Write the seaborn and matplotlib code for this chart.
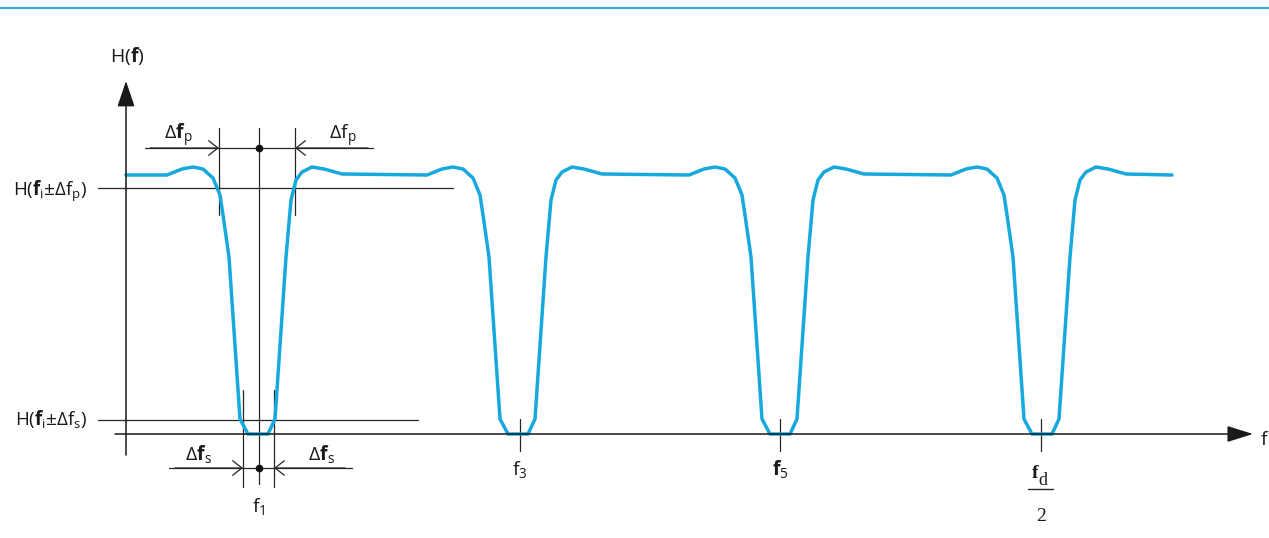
import matplotlib
matplotlib.use("Agg")

import matplotlib.pyplot as plt
import seaborn as sns
from matplotlib.patches import ArrowStyle

sns.set_style("white")
plt.rcParams['font.family'] = ['Open Sans', 'DejaVu Sans']
plt.rcParams['mathtext.fontset'] = 'custom'
plt.rcParams['mathtext.rm'] = 'Open Sans'
plt.rcParams['mathtext.bf'] = 'Open Sans:bold'
plt.rcParams['mathtext.it'] = 'Open Sans:italic'
plt.rcParams['mathtext.sf'] = 'Open Sans'

# filter response H(f) (x = frequency, y = image row)
curve_x = [126, 167,
           182, 193, 203, 213, 220, 223, 229, 240, 248, 268, 275, 286, 291, 296, 302, 312, 324, 342,
           427, 442, 453, 463, 473, 480, 483, 489, 500, 508, 528, 535, 546, 551, 556, 562, 572, 584, 602,
           689, 704, 715, 725, 735, 742, 745, 751, 762, 770, 790, 797, 808, 813, 818, 824, 834, 846, 864,
           951, 966, 977, 987, 997, 1004, 1007, 1013, 1024, 1032, 1052, 1059, 1070, 1075, 1080, 1086, 1096, 1108, 1126,
           1172]
curve_y = [175, 175,
           169, 167, 169, 178, 195, 215, 257, 419, 434, 434, 419, 257, 200, 180, 172, 167, 169, 174,
           175, 169, 167, 169, 178, 195, 215, 257, 419, 434, 434, 419, 257, 200, 180, 172, 167, 169, 174,
           175, 169, 167, 169, 178, 195, 215, 257, 419, 434, 434, 419, 257, 200, 180, 172, 167, 169, 174,
           175, 169, 167, 169, 178, 195, 215, 257, 419, 434, 434, 419, 257, 200, 180, 172, 167, 169, 174,
           175]

notch_ticks = [520, 780, 1041]
pass_level = 188
stop_level = 420
f1 = 259
fp_edges = [219, 295]
fs_edges = [243, 274]

ink = '#262626'
blue = '#17a8de'
txt = '#1a1a1a'

fig = plt.figure(figsize=(12.69, 5.38), dpi=100)
ax = fig.add_axes([0, 0, 1, 1])
ax.set_xlim(0, 1269)
ax.set_ylim(538, 0)
ax.axis('off')

# header rule
ax.plot([0, 1269], [8, 8], color='#35a9d8', lw=1.6)

# axes with arrows
ax.annotate('', xy=(1253, 434), xytext=(115, 434),
            arrowprops=dict(arrowstyle=ArrowStyle('-|>', head_length=0.8, head_width=0.25),
                            mutation_scale=20, color='#1a1a1a', lw=1.1,
                            shrinkA=0, shrinkB=0))
ax.annotate('', xy=(126, 81), xytext=(126, 455),
            arrowprops=dict(arrowstyle=ArrowStyle('-|>', head_length=0.8, head_width=0.27),
                            mutation_scale=20, color='#1a1a1a', lw=1.1,
                            shrinkA=0, shrinkB=0))

# reference levels
ax.plot([98, 453], [pass_level, pass_level], color=ink, lw=0.9)
ax.plot([98, 418], [stop_level, stop_level], color=ink, lw=0.9)

# vertical guides
ax.plot([f1, f1], [128, 484], color=ink, lw=0.9)
for xe in fp_edges:
    ax.plot([xe, xe], [128, 215], color=ink, lw=0.9)
for xe in fs_edges:
    ax.plot([xe, xe], [390, 487], color=ink, lw=0.9)

chev = dict(arrowstyle=ArrowStyle('->', head_length=0.45, head_width=0.35),
            mutation_scale=15, color=ink, lw=0.9, shrinkA=0, shrinkB=0)

# passband width markers
ax.plot([145, 373], [148, 148], color=ink, lw=0.9)
ax.annotate('', xy=(fp_edges[0], 148), xytext=(150, 148), arrowprops=chev)
ax.annotate('', xy=(fp_edges[1], 148), xytext=(368, 148), arrowprops=chev)
ax.plot([f1], [148], 'o', color='#111111', ms=4.5)

# stopband width markers
ax.plot([169, 352], [468, 468], color=ink, lw=0.9)
ax.annotate('', xy=(fs_edges[0], 468), xytext=(175, 468), arrowprops=chev)
ax.annotate('', xy=(fs_edges[1], 468), xytext=(345, 468), arrowprops=chev)
ax.plot([f1], [468], 'o', color='#111111', ms=4.5)

# ticks at the notch frequencies
for xt in notch_ticks:
    ax.plot([xt, xt], [419, 451], color=ink, lw=0.9)

# response curve
sns.lineplot(x=curve_x, y=curve_y, sort=False, estimator=None, color=blue, lw=2.5, ax=ax)

# labels
fs = 14
ax.text(127, 62, r'$\mathrm{H(}\mathbf{f}\mathrm{)}$', ha='center', va='baseline', fontsize=fs, color=txt)
ax.text(87, 196, r'$\mathrm{H(}\mathbf{f}_\mathrm{i}\mathrm{\pm\Delta f}_\mathrm{p}\mathrm{)}$',
        ha='right', va='baseline', fontsize=13.5, color=txt)
ax.text(87, 425, r'$\mathrm{H(}\mathbf{f}_\mathrm{i}\mathrm{\pm\Delta f}_\mathrm{s}\mathrm{)}$',
        ha='right', va='baseline', fontsize=13.5, color=txt)
ax.text(178, 140, r'$\Delta\mathbf{f}_\mathrm{p}$', ha='center', va='baseline', fontsize=fs, color=txt)
ax.text(343, 140, r'$\Delta\mathrm{f}_\mathrm{p}$', ha='center', va='baseline', fontsize=fs, color=txt)
ax.text(198, 460, r'$\Delta\mathbf{f}_\mathrm{s}$', ha='center', va='baseline', fontsize=fs, color=txt)
ax.text(321, 460, r'$\Delta\mathbf{f}_\mathrm{s}$', ha='center', va='baseline', fontsize=fs, color=txt)
ax.text(f1, 512, r'$\mathrm{f}_\mathrm{1}$', ha='center', va='baseline', fontsize=fs, color=txt)
ax.text(notch_ticks[0], 475, r'$\mathrm{f}_\mathrm{3}$', ha='center', va='baseline', fontsize=fs, color=txt)
ax.text(notch_ticks[1], 475, r'$\mathbf{f}_\mathrm{5}$', ha='center', va='baseline', fontsize=fs, color=txt)
ax.text(1261, 445, 'f', ha='left', va='baseline', fontsize=fs, color=txt)

# f_d / 2
ax.text(1038, 478, 'f', ha='right', va='baseline', fontsize=14, fontweight='bold',
        family='Liberation Serif', color=txt)
ax.text(1038, 485, 'd', ha='left', va='baseline', fontsize=13,
        family='Liberation Serif', color=txt)
ax.plot([1028, 1053], [489, 489], color=ink, lw=1.0)
ax.text(1041, 521, '2', ha='center', va='baseline', fontsize=14,
        family='Liberation Serif', color=txt)

fig.savefig('out.png', dpi=100)
